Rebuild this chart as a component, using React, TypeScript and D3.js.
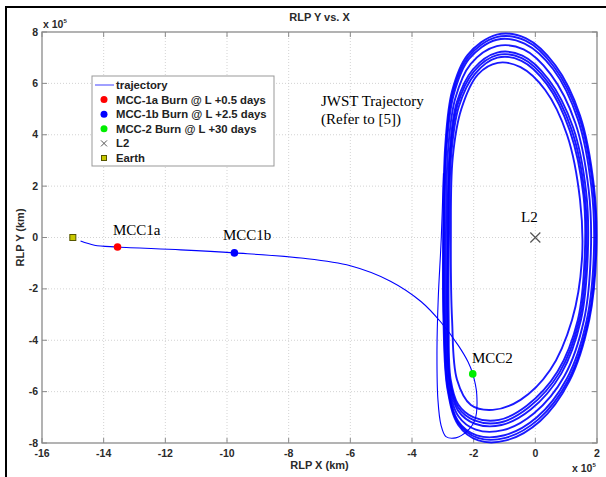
import React, { useEffect, useRef } from "react";
import * as d3 from "d3";

// values are in units of 1e5 km
const xTicks = [-16, -14, -12, -10, -8, -6, -4, -2, 0, 2];
const yTicks = [-8, -6, -4, -2, 0, 2, 4, 6, 8];

const transfer = [
  [-14.75, -0.14], [-14.3, -0.3], [-13.55, -0.37], [-11.5, -0.48], [-9.76, -0.6],
  [-7.6, -0.8], [-6.0, -1.1], [-4.7, -1.7], [-3.7, -2.5], [-3.06, -3.3],
  [-2.5, -4.2], [-2.18, -4.85], [-2.03, -5.31], [-1.9, -6.1], [-1.96, -7.1],
  [-2.22, -7.55], [-2.58, -7.8], [-2.9, -7.75], [-3.06, -7.3], [-3.16, -6.3],
  [-3.19, -4.4], [-3.15, -2.4], [-3.05, 0], [-2.98, 2.5],
];

const loopA = [
  [-2.99, 0], [-2.92, 3.6], [-2.7, 5.7], [-2.2, 7.1], [-1.25, 7.9], [-0.3, 7.75],
  [0.65, 6.7], [1.45, 4.75], [1.9, 2.0], [1.98, -0.5], [1.75, -3.2], [1.1, -5.6],
  [0.15, -7.15], [-0.95, -7.9], [-1.85, -7.9], [-2.5, -7.3], [-2.85, -5.9], [-2.98, -3.2],
];
const loopG = [
  [-2.97, 0], [-2.9, 3.55], [-2.68, 5.62], [-2.18, 7.02], [-1.26, 7.8], [-0.32, 7.66],
  [0.62, 6.62], [1.42, 4.68], [1.87, 1.98], [1.95, -0.52], [1.72, -3.2], [1.07, -5.55],
  [0.1, -7.08], [-0.97, -7.8], [-1.87, -7.8], [-2.5, -7.22], [-2.84, -5.85], [-2.96, -3.2],
];
const loopB = [
  [-2.95, 0], [-2.88, 3.5], [-2.65, 5.55], [-2.15, 6.95], [-1.25, 7.7], [-0.35, 7.55],
  [0.58, 6.55], [1.38, 4.6], [1.82, 1.95], [1.9, -0.55], [1.67, -3.2], [1.02, -5.5],
  [0.05, -7.0], [-1.0, -7.7], [-1.9, -7.7], [-2.5, -7.15], [-2.82, -5.8], [-2.94, -3.2],
];
const loopC = [
  [-2.9, 0], [-2.83, 3.4], [-2.6, 5.4], [-2.1, 6.75], [-1.25, 7.45], [-0.38, 7.32],
  [0.5, 6.35], [1.3, 4.45], [1.73, 1.85], [1.8, -0.6], [1.58, -3.2], [0.94, -5.4],
  [-0.05, -6.85], [-1.05, -7.5], [-1.93, -7.48], [-2.5, -6.95], [-2.8, -5.7], [-2.9, -3.2],
];
const loopD = [
  [-2.85, 0], [-2.78, 3.3], [-2.55, 5.25], [-2.02, 6.55], [-1.24, 7.2], [-0.42, 7.08],
  [0.43, 6.15], [1.22, 4.3], [1.65, 1.75], [1.7, -0.7], [1.48, -3.2], [0.84, -5.3],
  [-0.15, -6.7], [-1.1, -7.3], [-1.96, -7.25], [-2.5, -6.75], [-2.78, -5.6], [-2.86, -3.2],
];
const loopH = [
  [-2.83, 0], [-2.76, 3.25], [-2.52, 5.18], [-1.99, 6.47], [-1.24, 7.1], [-0.44, 6.98],
  [0.4, 6.06], [1.17, 4.22], [1.6, 1.7], [1.65, -0.74], [1.43, -3.2], [0.78, -5.26],
  [-0.22, -6.62], [-1.14, -7.2], [-1.98, -7.12], [-2.5, -6.62], [-2.77, -5.55], [-2.84, -3.2],
];
const loopE = [
  [-2.8, 0], [-2.73, 3.2], [-2.48, 5.1], [-1.95, 6.38], [-1.23, 7.0], [-0.45, 6.88],
  [0.37, 5.97], [1.12, 4.15], [1.56, 1.65], [1.6, -0.78], [1.38, -3.2], [0.72, -5.22],
  [-0.28, -6.55], [-1.18, -7.1], [-2.0, -7.0], [-2.5, -6.5], [-2.75, -5.5], [-2.81, -3.2],
];
const loopF = [
  [-2.74, 0], [-2.68, 3.1], [-2.4, 5.0], [-1.86, 6.35], [-1.22, 6.8], [-0.48, 6.63],
  [0.32, 5.74], [1.03, 3.99], [1.45, 1.46], [1.51, -0.88], [1.19, -3.21], [0.48, -5.16],
  [-0.48, -6.32], [-1.38, -6.71], [-2.09, -6.52], [-2.54, -5.54], [-2.7, -3.21],
];
const haloLoops = [loopA, loopG, loopB, loopC, loopD, loopH, loopE, loopF];

const earth = [-15, 0];
const l2 = [0, 0];
const burns = [
  { name: "MCC-1a Burn @ L +0.5 days", label: "MCC1a", pos: [-13.55, -0.37], color: "#ff0000" },
  { name: "MCC-1b Burn @ L +2.5 days", label: "MCC1b", pos: [-9.76, -0.6], color: "#0000ff" },
  { name: "MCC-2 Burn @ L +30 days", label: "MCC2", pos: [-2.03, -5.31], color: "#00ee00" },
];

const sans = "'Liberation Sans', Arial, sans-serif";
const serif = "'Liberation Serif', 'Times New Roman', serif";

export default function App() {
  const ref = useRef<SVGSVGElement>(null);

  useEffect(() => {
    const svg = d3.select(ref.current);
    svg.selectAll("*").remove();

    const left = 42, right = 597, top = 32, bottom = 443;
    const x = d3.scaleLinear().domain([-16, 2]).range([left, right]);
    const y = d3.scaleLinear().domain([-8, 8]).range([bottom, top]);

    svg.append("rect").attr("width", 606).attr("height", 477).attr("fill", "#fff");

    // frame lines (top and left only)
    svg.append("line").attr("x1", 6).attr("x2", 606).attr("y1", 7).attr("y2", 7)
      .attr("stroke", "#000").attr("stroke-width", 2);
    svg.append("line").attr("x1", 6).attr("x2", 6).attr("y1", 6).attr("y2", 477)
      .attr("stroke", "#000").attr("stroke-width", 2);

    // grid
    const grid = svg.append("g").attr("stroke", "#c8c8c8").attr("stroke-width", 0.8)
      .attr("stroke-dasharray", "1,2");
    xTicks.slice(1, -1).forEach((t) => {
      grid.append("line").attr("x1", x(t)).attr("x2", x(t)).attr("y1", top).attr("y2", bottom);
    });
    yTicks.slice(1, -1).forEach((t) => {
      grid.append("line").attr("x1", left).attr("x2", right).attr("y1", y(t)).attr("y2", y(t));
    });

    // axes box
    svg.append("rect").attr("x", left).attr("y", top).attr("width", right - left)
      .attr("height", bottom - top).attr("fill", "none").attr("stroke", "#8a8a8a").attr("stroke-width", 1.3);

    const ticks = svg.append("g").attr("stroke", "#8a8a8a").attr("stroke-width", 1);
    xTicks.forEach((t) => {
      ticks.append("line").attr("x1", x(t)).attr("x2", x(t)).attr("y1", bottom).attr("y2", bottom - 5);
      ticks.append("line").attr("x1", x(t)).attr("x2", x(t)).attr("y1", top).attr("y2", top + 5);
    });
    yTicks.forEach((t) => {
      ticks.append("line").attr("x1", left).attr("x2", left + 5).attr("y1", y(t)).attr("y2", y(t));
      ticks.append("line").attr("x1", right).attr("x2", right - 5).attr("y1", y(t)).attr("y2", y(t));
    });

    // tick labels
    const tl = svg.append("g").attr("font-family", sans).attr("font-size", 10.5)
      .attr("font-weight", "bold").attr("fill", "#2a2a2a");
    xTicks.forEach((t) => {
      tl.append("text").attr("x", x(t)).attr("y", bottom + 14).attr("text-anchor", "middle").text(t);
    });
    yTicks.forEach((t) => {
      tl.append("text").attr("x", left - 4).attr("y", y(t) + 3.5).attr("text-anchor", "end").text(t);
    });
    const e1 = tl.append("text").attr("x", left + 1).attr("y", top - 4);
    e1.append("tspan").text("x 10");
    e1.append("tspan").attr("font-size", 6).attr("dy", -5).text("5");
    const e2 = tl.append("text").attr("x", right - 25).attr("y", bottom + 29);
    e2.append("tspan").text("x 10");
    e2.append("tspan").attr("font-size", 6).attr("dy", -5).text("5");

    // titles
    svg.append("text").attr("x", (left + right) / 2).attr("y", 21).attr("text-anchor", "middle")
      .attr("font-family", sans).attr("font-size", 11).attr("font-weight", "bold").attr("fill", "#2a2a2a")
      .text("RLP Y vs. X");
    svg.append("text").attr("x", (left + right) / 2).attr("y", bottom + 26).attr("text-anchor", "middle")
      .attr("font-family", sans).attr("font-size", 11).attr("font-weight", "bold").attr("fill", "#2a2a2a")
      .text("RLP X (km)");
    svg.append("text").attr("transform", `translate(24,${(top + bottom) / 2}) rotate(-90)`)
      .attr("text-anchor", "middle").attr("font-family", sans).attr("font-size", 11)
      .attr("font-weight", "bold").attr("fill", "#2a2a2a").text("RLP Y (km)");

    // trajectory
    const line = d3.line().x((d) => x(d[0])).y((d) => y(d[1])).curve(d3.curveCatmullRom);
    const closed = d3.line().x((d) => x(d[0])).y((d) => y(d[1])).curve(d3.curveCatmullRomClosed);
    const traj = svg.append("g").attr("fill", "none").attr("stroke", "#0000ff");
    traj.append("path").attr("d", line(transfer as any)).attr("stroke-width", 1.1);
    haloLoops.forEach((lp) => {
      traj.append("path").attr("d", closed(lp as any)).attr("stroke-width", 1.9).attr("stroke-opacity", 0.9);
    });

    // markers
    svg.append("rect").attr("x", x(earth[0]) - 3).attr("y", y(earth[1]) - 3).attr("width", 6)
      .attr("height", 6).attr("fill", "#c8c800").attr("stroke", "#555500").attr("stroke-width", 1);
    const lx = x(l2[0]), ly = y(l2[1]);
    svg.append("path").attr("d", `M${lx - 5},${ly - 5}L${lx + 5},${ly + 5}M${lx - 5},${ly + 5}L${lx + 5},${ly - 5}`)
      .attr("stroke", "#555").attr("stroke-width", 1.2);
    burns.forEach((b) => {
      svg.append("circle").attr("cx", x(b.pos[0])).attr("cy", y(b.pos[1])).attr("r", 3.8).attr("fill", b.color);
    });

    // annotations
    const ann = svg.append("g").attr("font-family", serif).attr("font-size", 15).attr("fill", "#000");
    ann.append("text").attr("x", 113).attr("y", 235).text(burns[0].label);
    ann.append("text").attr("x", 223).attr("y", 240).text(burns[1].label);
    ann.append("text").attr("x", 472).attr("y", 363).text(burns[2].label);
    ann.append("text").attr("x", 521).attr("y", 222).text("L2");
    ann.append("text").attr("x", 321).attr("y", 106).text("JWST Trajectory");
    ann.append("text").attr("x", 321).attr("y", 124).text("(Refer to [5])");

    // legend
    const lg = svg.append("g").attr("transform", "translate(92,76)");
    lg.append("rect").attr("width", 182).attr("height", 90).attr("fill", "#fff")
      .attr("stroke", "#999").attr("stroke-width", 1);
    const rowY = (i: number) => 9 + i * 14.6;
    const rows = ["trajectory", ...burns.map((b) => b.name), "L2", "Earth"];
    rows.forEach((r, i) => {
      lg.append("text").attr("x", 24).attr("y", rowY(i) + 4).attr("font-family", sans)
        .attr("font-size", 11.3).attr("font-weight", "bold").attr("fill", "#222").text(r);
    });
    lg.append("line").attr("x1", 3).attr("x2", 22).attr("y1", rowY(0)).attr("y2", rowY(0))
      .attr("stroke", "#8080ff").attr("stroke-width", 1.5);
    burns.forEach((b, i) => {
      lg.append("circle").attr("cx", 12).attr("cy", rowY(i + 1)).attr("r", 3.5).attr("fill", b.color);
    });
    const my = rowY(4);
    lg.append("path").attr("d", `M9,${my - 3}L15,${my + 3}M9,${my + 3}L15,${my - 3}`)
      .attr("stroke", "#555").attr("stroke-width", 1);
    lg.append("rect").attr("x", 9.5).attr("y", rowY(5) - 2.5).attr("width", 5).attr("height", 5)
      .attr("fill", "#c8c800").attr("stroke", "#555500").attr("stroke-width", 1);
  }, []);

  return (
    <svg ref={ref} width={606} height={477}
      style={{ position: "absolute", left: 0, top: 0, display: "block" }} />
  );
}
